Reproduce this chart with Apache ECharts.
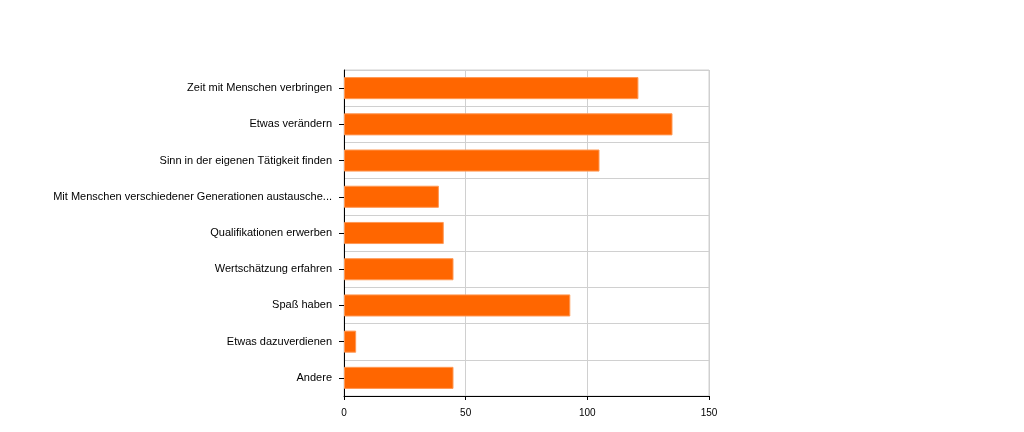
<!DOCTYPE html>
<html><head><meta charset="utf-8">
<script src="https://cdn.jsdelivr.net/npm/echarts@6/dist/echarts.min.js"></script>
<style>html,body{margin:0;padding:0;background:#fff}#c{width:1024px;height:432px}</style>
</head><body><div id="c"></div>
<script>
const categories = [
  "Zeit mit Menschen verbringen",
  "Etwas verändern",
  "Sinn in der eigenen Tätigkeit finden",
  "Mit Menschen verschiedener Generationen austausche...",
  "Qualifikationen erwerben",
  "Wertschätzung erfahren",
  "Spaß haben",
  "Etwas dazuverdienen",
  "Andere"
];
const values = [121, 135, 105, 39, 41, 45, 93, 5, 45];
const xTicks = [0, 50, 100, 150];

const chart = echarts.init(document.getElementById('c'), null, {renderer: 'canvas'});
chart.setOption({
  animation: false,
  grid: {left: 344, top: 70, width: 365, height: 326, containLabel: false,
         show: true, borderColor: '#d0d0d0', borderWidth: 1},
  xAxis: {
    type: 'value', min: xTicks[0], max: xTicks[xTicks.length-1], interval: 50,
    axisLine: {show: true, lineStyle: {color: '#000', width: 1}},
    axisTick: {show: true, length: 4, lineStyle: {color: '#000'}},
    axisLabel: {color: '#000', fontFamily: 'Liberation Sans', fontSize: 10, margin: 12},
    splitLine: {show: true, lineStyle: {color: '#d0d0d0', width: 1}}
  },
  yAxis: {
    type: 'category', data: categories, inverse: true,
    axisLine: {show: true, lineStyle: {color: '#000', width: 1}},
    axisTick: {show: true, alignWithLabel: true, length: 5, lineStyle: {color: '#000'}},
    axisLabel: {color: '#000', fontFamily: 'Liberation Sans', fontSize: 11, margin: 12},
    splitLine: {show: true, lineStyle: {color: '#d0d0d0', width: 1}}
  },
  series: [{
    type: 'bar', data: values, barCategoryGap: '39%',
    itemStyle: {color: '#ff6600', borderColor: '#ff9955', borderWidth: 1}
  }]
});
</script></body></html>
